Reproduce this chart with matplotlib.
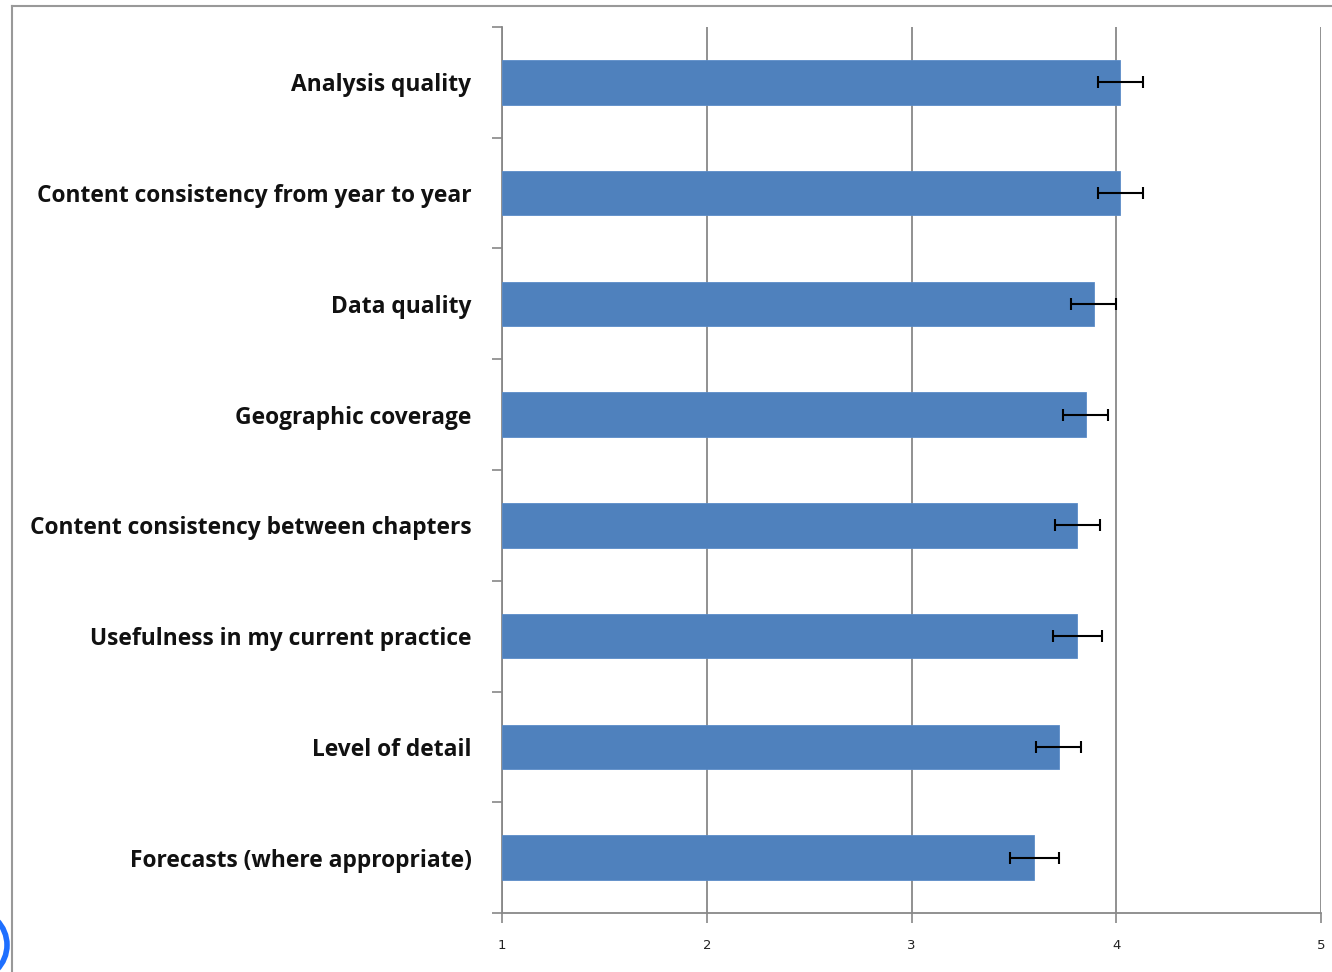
import matplotlib
matplotlib.use("Agg")
import matplotlib.pyplot as plt
from matplotlib.patches import Ellipse
from matplotlib.lines import Line2D

categories = [
    "Analysis quality",
    "Content consistency from year to year",
    "Data quality",
    "Geographic coverage",
    "Content consistency between chapters",
    "Usefulness in my current practice",
    "Level of detail",
    "Forecasts (where appropriate)",
]
means = [4.02, 4.02, 3.89, 3.85, 3.81, 3.81, 3.72, 3.60]
errors = [0.11, 0.11, 0.11, 0.11, 0.11, 0.12, 0.11, 0.12]
xticks = [1, 2, 3, 4, 5]

fig = plt.figure(figsize=(13.32, 9.72), dpi=100)
ax = fig.add_axes([502/1332, 1-913/972, (1321-502)/1332, (913-27)/972])

y = list(range(len(categories)))
ax.barh(y, [m - 1 for m in means], left=1, height=0.4, color="#4F81BD",
        edgecolor="#5B8CC8", linewidth=0.6, zorder=3)
ax.errorbar(means, y, xerr=errors, fmt="none", ecolor="black",
            elinewidth=1.5, capsize=4, capthick=1.5, zorder=4)

ax.set_xlim(1, 5)
ax.set_ylim(len(categories) - 0.5, -0.5)
ax.set_xticks(xticks)
ax.set_xticklabels([str(t) for t in xticks], fontsize=9.5, color="#222222")
ax.set_yticks(y)
ax.set_yticklabels(categories, fontsize=16.4, fontweight="bold",
                   family=["Open Sans", "DejaVu Sans"], color="#111111")
ax.tick_params(axis="y", which="major", length=0, pad=22)
ax.set_yticks([i - 0.5 for i in range(len(categories) + 1)], minor=True)
ax.tick_params(axis="y", which="minor", length=7, width=1.2, color="#888888", direction="out")
ax.tick_params(axis="x", which="major", length=7, width=1.2, color="#888888", direction="out", pad=12)

ax.grid(axis="x", color="#888888", linewidth=1.3, zorder=1)
for s in ["top", "right"]:
    ax.spines[s].set_visible(False)
for s in ["left", "bottom"]:
    ax.spines[s].set_color("#888888")
    ax.spines[s].set_linewidth(1.3)

# outer frame lines
fig.add_artist(Line2D([12/1332, 1.0], [1-6/972, 1-6/972], transform=fig.transFigure,
                      color="#999999", linewidth=1.5))
fig.add_artist(Line2D([12/1332, 12/1332], [0, 1-6/972], transform=fig.transFigure,
                      color="#999999", linewidth=1.5))
# partial blue circle at lower-left edge
circ = Ellipse((-28/1332, 1-945/972), 70/1332, 70/972, transform=fig.transFigure,
               fill=False, edgecolor="#1E6FFF", linewidth=4)
fig.add_artist(circ)

fig.savefig("out.png", dpi=100)
